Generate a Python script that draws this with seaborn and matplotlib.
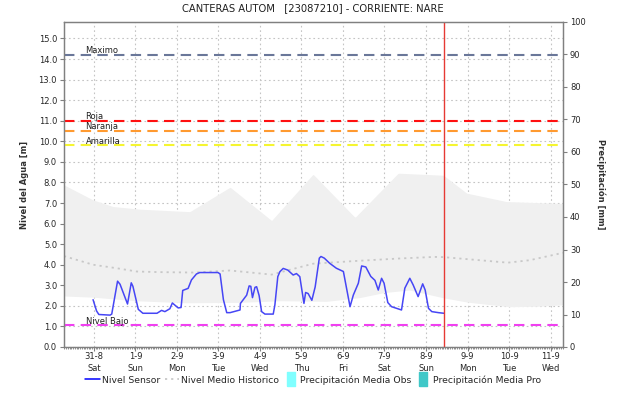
import numpy as np
import pandas as pd
import matplotlib
matplotlib.use('Agg')
import matplotlib.pyplot as plt
from matplotlib.lines import Line2D
import seaborn as sns

# dias desde 31-8 (0 = 31-8 00:00)
sensor_t = [-0.02, 0.065, 0.12, 0.39, 0.43, 0.57, 0.63, 0.81, 0.90, 0.94, 1.07, 1.18, 1.52, 1.63,
            1.71, 1.83, 1.89, 2.03, 2.10, 2.14, 2.27, 2.35, 2.47, 2.55, 2.99, 3.04, 3.12, 3.20, 3.28,
            3.52, 3.53, 3.68, 3.74, 3.78, 3.82, 3.88, 3.92, 3.98, 4.04, 4.12, 4.32, 4.36, 4.43, 4.48,
            4.56, 4.67, 4.80, 4.88, 4.96, 5.06, 5.10, 5.16, 5.25, 5.33, 5.43, 5.47, 5.55, 5.68, 5.84,
            6.01, 6.17, 6.25, 6.37, 6.45, 6.55, 6.67, 6.77, 6.85, 6.93, 6.99, 7.08, 7.17, 7.41, 7.49,
            7.61, 7.69, 7.81, 7.92, 7.98, 8.06, 8.14, 8.30, 8.43]
sensor_nivel = [2.30, 1.75, 1.58, 1.55, 1.60, 3.20, 3.05, 2.09, 3.12, 2.95, 1.83, 1.64, 1.64, 1.78,
                1.72, 1.86, 2.14, 1.90, 1.92, 2.75, 2.85, 3.26, 3.55, 3.62, 3.62, 3.55, 2.30, 1.67, 1.67,
                1.80, 2.12, 2.52, 2.97, 2.95, 2.40, 2.90, 2.93, 2.50, 1.72, 1.60, 1.60, 2.05, 3.42, 3.66,
                3.82, 3.74, 3.50, 3.57, 3.42, 2.12, 2.65, 2.60, 2.27, 2.92, 4.32, 4.40, 4.32, 4.07, 3.83,
                3.67, 1.96, 2.53, 3.10, 3.94, 3.89, 3.43, 3.24, 2.77, 3.34, 3.10, 2.16, 1.96, 1.80, 2.86,
                3.34, 3.02, 2.45, 3.07, 2.77, 1.88, 1.72, 1.67, 1.64]

medio_t = [-0.72, -0.02, 0.55, 1.03, 1.59, 2.39, 3.28, 4.28, 5.28, 6.29, 7.33, 8.20, 8.42, 9.00,
           9.97, 10.50, 11.30]
medio_nivel = [4.42, 4.00, 3.83, 3.67, 3.64, 3.62, 3.72, 3.52, 4.05, 4.18, 4.30, 4.38, 4.37, 4.27,
               4.10, 4.22, 4.58]

max_t = [-0.72, -0.02, 0.46, 1.11, 2.31, 3.28, 4.28, 5.28, 6.29, 7.33, 8.42, 8.98, 9.94, 11.30]
max_nivel = [7.88, 7.15, 6.83, 6.70, 6.58, 7.77, 6.15, 8.40, 6.30, 8.45, 8.35, 7.48, 7.07, 6.98]

min_t = [-0.72, 0.0, 1.0, 2.2, 3.5, 4.5, 5.6, 6.4, 7.0, 7.6, 8.4, 9.0, 10.0, 10.7, 11.3]
min_nivel = [2.48, 2.42, 2.25, 2.15, 2.17, 2.25, 2.22, 2.40, 2.65, 2.77, 2.40, 2.18, 1.96, 1.98, 2.05]

umbral_nombres = ['Maximo', 'Roja', 'Naranja', 'Amarilla', 'Nivel Bajo']
umbral_valores = [14.2, 11.0, 10.5, 9.8, 1.05]
umbral_colores = ['#6a7799', '#ff1010', '#ff9a30', '#f5f530', '#f040f0']

dias = ['31-8\nSat', '1-9\nSun', '2-9\nMon', '3-9\nTue', '4-9\nWed', '5-9\nThu', '6-9\nFri',
        '7-9\nSat', '8-9\nSun', '9-9\nMon', '10-9\nTue', '11-9\nWed']
ahora = 8.44

sns.set_style('white')
plt.rcParams['font.family'] = ['DejaVu Sans']

fig = plt.figure(figsize=(6.18, 4.01), dpi=100)
ax = fig.add_axes([64 / 618, 1 - 347 / 401, (563 - 64) / 618, (347 - 22) / 401])
ax2 = ax.twinx()

# banda historica min-max
t_band = np.linspace(-0.72, 11.3, 400)
ax.fill_between(t_band, np.interp(t_band, min_t, min_nivel), np.interp(t_band, max_t, max_nivel),
                color='#f0f0f0', lw=0, zorder=1)

df_medio = pd.DataFrame({'t': medio_t, 'nivel': medio_nivel})
sns.lineplot(data=df_medio, x='t', y='nivel', ax=ax, color='#c8c8c8', lw=1.3,
             linestyle=(0, (1.2, 2.2)), zorder=2)

for nombre, val, col in zip(umbral_nombres, umbral_valores, umbral_colores):
    ax.axhline(val, color=col, lw=1.5, linestyle=(0, (5, 3)), zorder=3)
    ax.annotate(nombre, (-0.2, val), xytext=(0, 1.2), textcoords='offset points',
                va='baseline', ha='left', fontsize=6, color='#202020', zorder=5)

df_sensor = pd.DataFrame({'t': sensor_t, 'nivel': sensor_nivel})
sns.lineplot(data=df_sensor, x='t', y='nivel', ax=ax, color='#4646f5', lw=1.1, zorder=4)

ax.axvline(ahora, color='#e63a34', lw=1.0, zorder=5)

ax.set_xlim(-0.72, 11.3)
ax.set_ylim(0, 15.8)
ax.set_xticks(range(12))
ax.set_xticklabels(dias, fontsize=6, linespacing=1.5)
ax.set_xticks(np.arange(-17, 272) / 24, minor=True)
ax.set_yticks(range(16))
ax.set_yticklabels(['%.1f' % v for v in range(16)], fontsize=6)
ax.grid(True, which='major', color='#c4c4c4', lw=0.8, linestyle=(0, (1.5, 2.5)))
ax.set_axisbelow(True)
ax.tick_params(axis='y', which='major', direction='out', length=3, width=0.8, color='#808080',
               pad=2, left=True)
ax.tick_params(axis='x', which='major', direction='out', length=3, width=0.8, color='#808080',
               pad=0.5, bottom=True)
ax.tick_params(axis='x', which='minor', direction='out', length=1.5, width=0.6, color='#808080',
               bottom=True)
ax.set_xlabel('')
ax.set_ylabel('Nivel del Agua [m]', fontsize=6, fontweight='bold', labelpad=7, color='#303030')

ax2.set_ylim(0, 100)
ax2.set_yticks(range(0, 101, 10))
ax2.set_yticklabels([str(v) for v in range(0, 101, 10)], fontsize=6)
ax2.tick_params(axis='y', direction='out', length=3, width=0.8, color='#808080', pad=2, right=True)
ax2.set_ylabel('Precipitación [mm]', fontsize=6, fontweight='bold', rotation=270, labelpad=14,
               color='#303030')
ax2.grid(False)

for a in (ax, ax2):
    for s in a.spines.values():
        s.set_color('#808080')
        s.set_linewidth(0.9)

fig.suptitle('CANTERAS AUTOM   [23087210] - CORRIENTE: NARE', x=313 / 618, y=1 - 3 / 401,
             va='top', fontsize=7.2, color='#202020')

caja = [(-3, -5), (3, -5), (3, 5), (-3, 5), (-3, -5)]
handles = [Line2D([], [], color='#0000ff', lw=1.1),
           Line2D([], [], color='#c8c8c8', lw=1.3, linestyle=(0, (1.2, 2.2))),
           Line2D([], [], color='#80ffff', marker=caja, markersize=10, linestyle='none'),
           Line2D([], [], color='#40c8c8', marker=caja, markersize=10, linestyle='none')]
labels = ['Nivel Sensor', 'Nivel Medio Historico', 'Precipitación Media Obs', 'Precipitación Media Pro']
fig.legend(handles, labels, loc='center', bbox_to_anchor=(313 / 618, 1 - 380 / 401), ncol=4,
           frameon=False, fontsize=6.7, handlelength=1.6, handletextpad=0.2, columnspacing=0.45)

fig.savefig('out.png', dpi=100)
